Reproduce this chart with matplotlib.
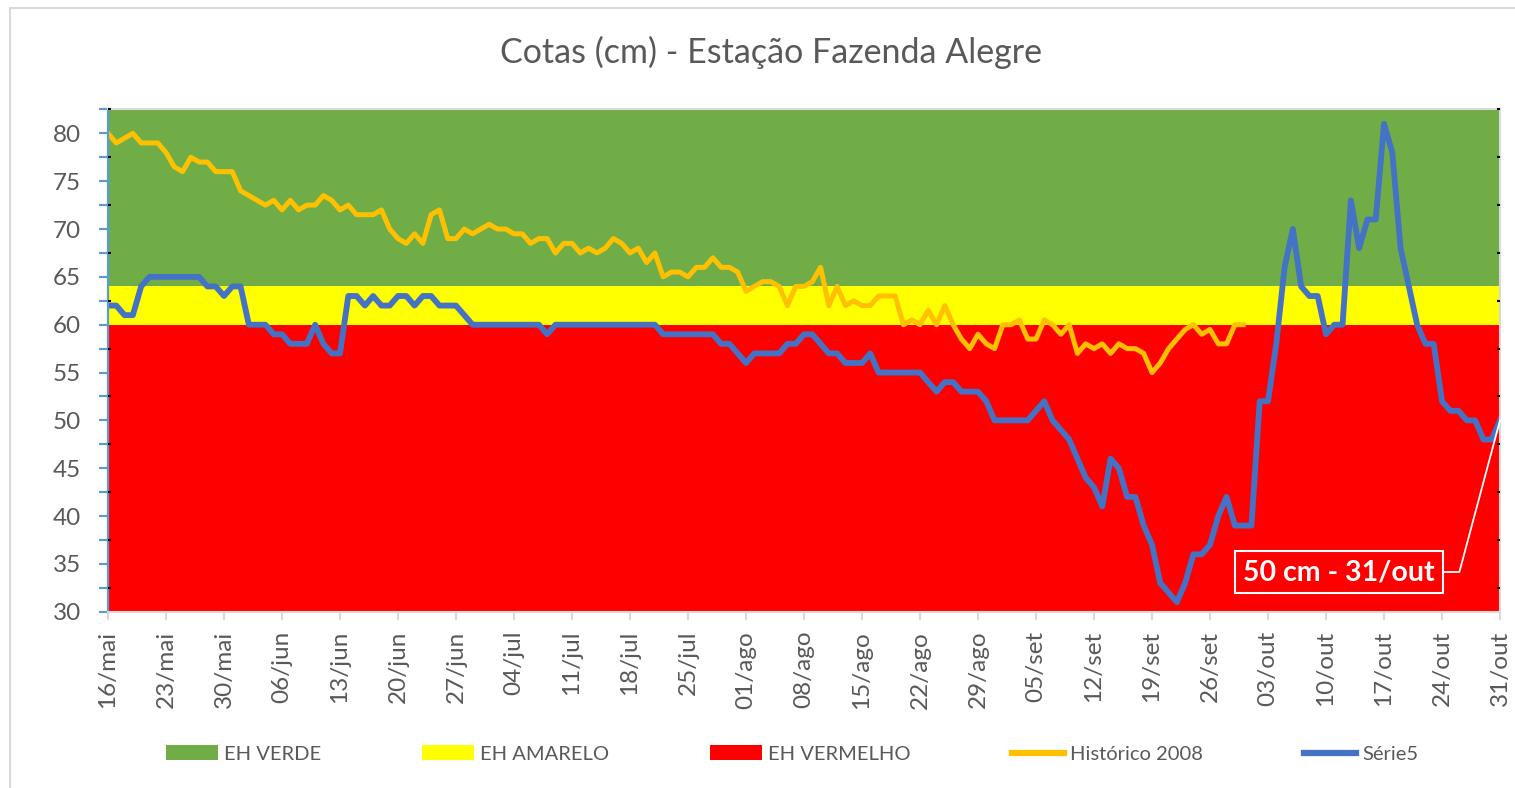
import matplotlib
matplotlib.use("Agg")
import matplotlib.pyplot as plt
import numpy as np
import pandas as pd
from matplotlib.patches import Rectangle

plt.rcParams['font.family'] = ['Lato', 'DejaVu Sans']

# dados (cota diaria em cm)
data_inicial = "2021-05-16"

serie5 = [62, 62, 61, 61, 64, 65, 65, 65, 65, 65, 65, 65, 64, 64, 63, 64, 64,
          60, 60, 60, 59, 59, 58, 58, 58, 60, 58, 57, 57,
          63, 63, 62, 63, 62, 62, 63, 63, 62, 63, 63, 62, 62, 62, 61,
          60, 60, 60, 60, 60, 60, 60, 60, 60, 59,
          60, 60, 60, 60, 60, 60, 60, 60, 60, 60, 60, 60, 60,
          59, 59, 59, 59, 59, 59, 59,
          58, 58, 57, 56, 57, 57, 57, 57,
          58, 58, 59, 59, 58, 57, 57, 56, 56, 56, 57,
          55, 55, 55, 55, 55, 55,
          54, 53, 54, 54, 53, 53, 53, 52,
          50, 50, 50, 50, 50,
          51, 52, 50, 49, 48, 46, 44, 43, 41,
          46, 45, 42, 42, 39, 37, 33, 32, 31, 33,
          36, 36, 37, 40, 42, 39, 39, 39, 52, 52,
          58, 66, 70, 64, 63, 63, 59, 60, 60, 73,
          68, 71, 71, 81, 78, 68, 64, 60, 58, 58,
          52, 51, 51, 50, 50, 48, 48, 50]

historico_2008 = [80, 79, 79.5, 80, 79, 79, 79, 78, 76.5, 76, 77.5, 77, 77, 76, 76, 76,
                  74, 73.5, 73, 72.5, 73, 72, 73, 72, 72.5, 72.5, 73.5, 73, 72, 72.5,
                  71.5, 71.5, 71.5, 72, 70, 69, 68.5, 69.5, 68.5, 71.5, 72, 69, 69,
                  70, 69.5, 70, 70.5, 70, 70, 69.5, 69.5, 68.5, 69, 69, 67.5, 68.5,
                  68.5, 67.5, 68, 67.5, 68, 69, 68.5, 67.5, 68, 66.5, 67.5,
                  65, 65.5, 65.5, 65, 66, 66, 67, 66, 66, 65.5, 63.5, 64, 64.5, 64.5,
                  64, 62, 64, 64, 64.5, 66, 62, 64, 62, 62.5, 62, 62, 63, 63, 63,
                  60, 60.5, 60, 61.5, 60, 62, 60, 58.5, 57.5, 59, 58, 57.5,
                  60, 60, 60.5, 58.5, 58.5, 60.5, 60, 59, 60, 57, 58, 57.5, 58, 57,
                  58, 57.5, 57.5, 57, 55, 56, 57.5, 58.5, 59.5, 60, 59, 59.5, 58, 58,
                  60, 60]

# faixas de alerta (empilhadas)
eh_vermelho = 60
eh_amarelo = 4
eh_verde = 20

meses = {5: "mai", 6: "jun", 7: "jul", 8: "ago", 9: "set", 10: "out"}

n = len(serie5)
datas = pd.date_range(data_inicial, periods=n, freq="D")
dias = np.arange(n)
hist = np.array(historico_2008 + [np.nan] * (n - len(historico_2008)))

cinza = '#595959'
W, H = 1515, 788
fig = plt.figure(figsize=(W / 100, H / 100), dpi=100)
ax = fig.add_axes([108 / W, 1 - 611.7 / H, (1500 - 108) / W, (611.7 - 108.5) / H])

areas = ax.stackplot(dias, np.full(n, eh_vermelho), np.full(n, eh_amarelo),
                     np.full(n, eh_verde),
                     colors=['#FF0000', '#FFFF00', '#70AD47'],
                     labels=['EH VERMELHO', 'EH AMARELO', 'EH VERDE'])
l_hist, = ax.plot(dias, hist, color='#FFC000', lw=3.6, label='Histórico 2008',
                  solid_joinstyle='round')
l_s5, = ax.plot(dias, serie5, color='#4472C4', lw=4.2, label='Série5',
                solid_joinstyle='round')

ax.set_xlim(0, n - 1)
ax.set_ylim(30, 82.6)

ticks_x = dias[::7]
ax.set_xticks(ticks_x)
ax.set_xticklabels([f"{datas[i].day:02d}/{meses[datas[i].month]}" for i in ticks_x],
                   rotation=90)
ax.set_yticks(np.arange(30, 81, 5))
ax.set_yticks(np.arange(32.5, 83, 5), minor=True)

ax.tick_params(axis='y', which='both', direction='out', color='#5B9BD5',
               length=6.5, width=1.5, labelsize=17.5, labelcolor=cinza, pad=13)
ax.tick_params(axis='x', which='major', direction='out', color='#D9D9D9',
               length=5.8, width=1.5, labelsize=17.5, labelcolor=cinza, pad=8)

ax.spines['left'].set_color('#5B9BD5')
ax.spines['left'].set_linewidth(1.6)
for s in ['bottom', 'right', 'top']:
    ax.spines[s].set_color('#D9D9D9')
    ax.spines[s].set_linewidth(1.5)

# eixo secundario: marcas pretas
ax2 = ax.twinx()
ax2.set_ylim(ax.get_ylim())
ax2.set_yticks(np.arange(32.5, 83, 5))
ax2.tick_params(axis='y', direction='in', length=2.5, width=1.5, color='black',
                left=True, right=True, labelleft=False, labelright=False)
for s in ax2.spines.values():
    s.set_visible(False)

ax.annotate("50 cm - 31/out", xy=(dias[-1], serie5[-1]), xytext=(1339, H - 572),
            textcoords='figure pixels', ha='center', va='center',
            fontsize=20.5, fontweight='bold', color='white',
            bbox=dict(boxstyle='square,pad=0.28', fc='#FF0000', ec='white', lw=1.5),
            arrowprops=dict(arrowstyle='-', color='white', lw=1.3,
                            connectionstyle='angle,angleA=0,angleB=75,rad=0',
                            shrinkA=0, shrinkB=0))

fig.text(771 / W, 1 - 52 / H, "Cotas (cm) - Estação Fazenda Alegre",
         ha='center', va='center', fontsize=24.5, color=cinza)

handles = [areas[2], areas[1], areas[0], l_hist, l_s5]
labels = [h.get_label() for h in handles]
leg = fig.legend(handles, labels, loc='center', bbox_to_anchor=(792 / W, 1 - 754 / H),
                 ncol=5, frameon=False, fontsize=14.5, labelcolor=cinza,
                 handlelength=2.6, handletextpad=0.3, columnspacing=5.0)
for ln in leg.get_lines():
    ln.set_linewidth(4.5)

fig.add_artist(Rectangle((10 / W, -0.05), 1.1, 1 - 8 / H + 0.05,
                         transform=fig.transFigure, fill=False,
                         ec='#D9D9D9', lw=1.5))

fig.savefig("out.png", dpi=100)
